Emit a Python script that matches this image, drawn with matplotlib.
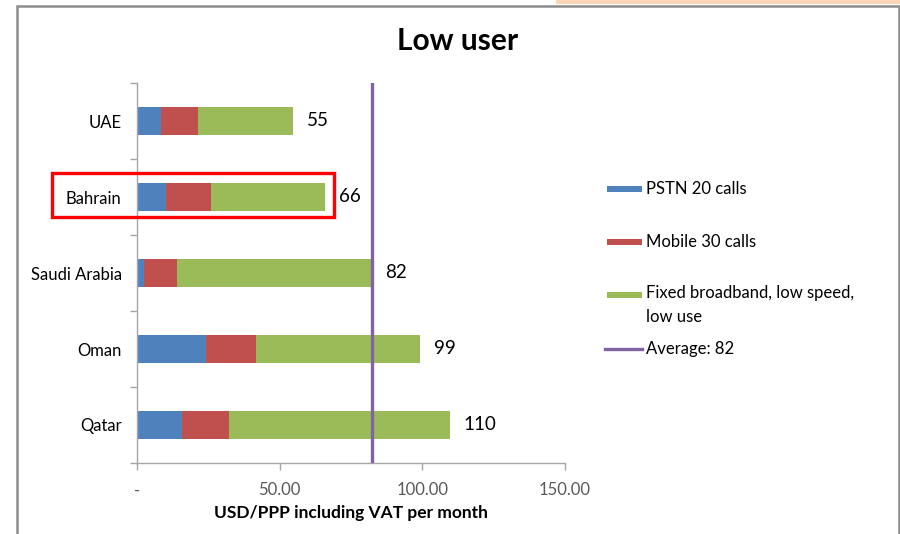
import matplotlib
matplotlib.use("Agg")
import matplotlib.pyplot as plt
from matplotlib.patches import Rectangle
from matplotlib.lines import Line2D
import numpy as np

plt.rcParams["font.family"] = ["Lato", "DejaVu Sans"]

countries = ["UAE", "Bahrain", "Saudi Arabia", "Oman", "Qatar"]
pstn = [8.3, 10.2, 2.5, 24.1, 15.7]
mobile = [13.0, 15.8, 11.4, 17.6, 16.4]
broadband = [33.4, 40.0, 68.2, 57.5, 77.6]

series_labels = ["PSTN 20 calls", "Mobile 30 calls", "Fixed broadband, low speed,\nlow use"]
series_colors = ["#4F81BD", "#C0504D", "#9BBB59"]
avg_color = "#8064A2"
axis_grey = "#A6A6A6"

totals = np.array(pstn) + np.array(mobile) + np.array(broadband)
average = totals.mean()

W, H = 900, 534
fig = plt.figure(figsize=(9, 5.34), dpi=100)
ax = fig.add_axes([137 / W, 1 - 463 / H, 428 / W, 380 / H])

y = np.arange(len(countries))
left = np.zeros(len(countries))
for vals, color in zip([pstn, mobile, broadband], series_colors):
    ax.barh(y, vals, left=left, height=0.38, color=color, linewidth=0)
    left += np.array(vals)

for yi, t in zip(y, totals):
    ax.annotate(f"{t:.0f}", (t, yi), xytext=(10, 0), textcoords="offset points",
                ha="left", va="center", fontsize=13.5, color="black")

ax.axvline(average, color=avg_color, lw=2.4, zorder=3)

ax.set_xlim(0, 150)
ax.set_ylim(len(countries) - 0.5, -0.5)
ax.set_xticks([0, 50, 100, 150])
ax.set_xticklabels(["-", "50.00", "100.00", "150.00"])
ax.tick_params(axis="x", direction="out", length=5, width=1, color=axis_grey,
               labelsize=12, labelcolor="#595959", pad=9)

# categories labelled at centres, ticks at the boundaries
ax.set_yticks(y)
ax.set_yticklabels(countries)
ax.set_yticks(np.arange(len(countries) + 1) - 0.5, minor=True)
ax.tick_params(axis="y", which="major", length=0, labelsize=12, pad=11)
ax.tick_params(axis="y", which="minor", direction="out", length=5, width=1, color=axis_grey)

for side in ["top", "right"]:
    ax.spines[side].set_visible(False)
for side in ["left", "bottom"]:
    ax.spines[side].set_color(axis_grey)
    ax.spines[side].set_linewidth(1)

ax.set_xlabel("USD/PPP including VAT per month", fontsize=12.5, fontweight="bold", labelpad=5)
fig.text(458 / W, 1 - 41 / H, "Low user", ha="center", va="center",
         fontsize=21.5, fontweight="bold")

# legend
leg_y = [189, 242, 295]
for yy, lab, color in zip(leg_y, series_labels, series_colors):
    fig.add_artist(Rectangle((607 / W, 1 - (yy + 3) / H), 35 / W, 6 / H,
                             transform=fig.transFigure, color=color, lw=0))
    if "\n" in lab:
        fig.text(646 / W, 1 - (yy - 10) / H, lab, ha="left", va="top",
                 fontsize=12, linespacing=1.65)
    else:
        fig.text(646 / W, 1 - yy / H, lab, ha="left", va="center", fontsize=12)
fig.add_artist(Line2D([605 / W, 642 / W], [1 - 349 / H, 1 - 349 / H],
                      transform=fig.transFigure, color=avg_color, lw=2.4))
fig.text(646 / W, 1 - 349 / H, f"Average: {average:.0f}", ha="left", va="center", fontsize=12)

# highlight box around Bahrain
fig.add_artist(Rectangle((52 / W, 1 - 217 / H), 282 / W, 44 / H, transform=fig.transFigure,
                         fill=False, edgecolor="#FF0000", lw=2.4))

# chart frame and strip at top
fig.add_artist(Rectangle((17 / W, -0.05), 882 / W, 1.05 - 6 / H, transform=fig.transFigure,
                         fill=False, edgecolor="#8C8C8C", lw=1.8))
fig.add_artist(Rectangle((556 / W, 1 - 4 / H), 344 / W, 4 / H, transform=fig.transFigure,
                         color="#FCD5B4", lw=0))

fig.savefig("out.png", dpi=100)
